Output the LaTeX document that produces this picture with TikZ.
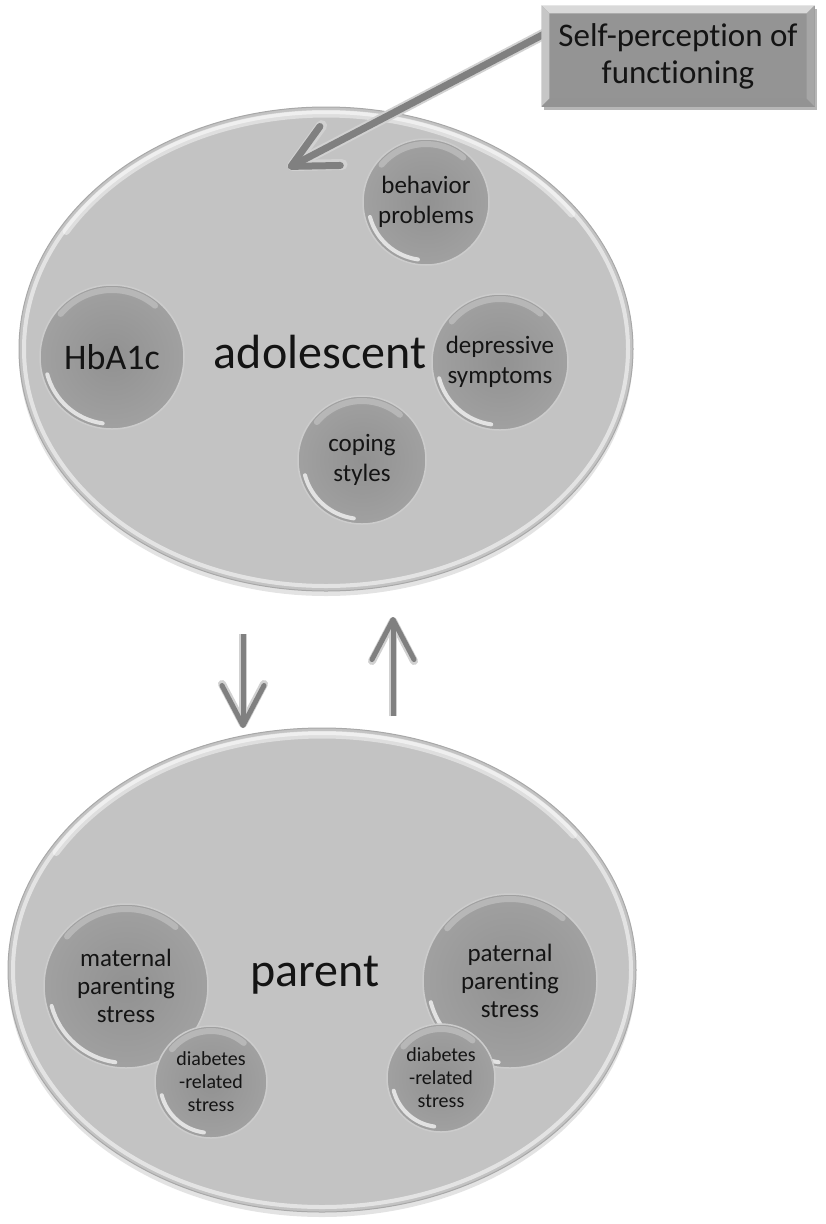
\documentclass[tikz,border=0pt]{standalone}
\usepackage{fontspec}
\setmainfont{Carlito}[Ligatures=NoCommon]
\usetikzlibrary{shapes.geometric,arrows.meta,shadows}

\definecolor{plate}{gray}{0.765}
\definecolor{platerim}{gray}{0.66}
\definecolor{bubin}{gray}{0.57}
\definecolor{bubout}{gray}{0.63}
\definecolor{bubedge}{gray}{0.80}
\definecolor{ink}{gray}{0.08}
\definecolor{boxfill}{gray}{0.58}
\definecolor{shaftdark}{gray}{0.50}
\definecolor{shaftlight}{gray}{0.82}

\tikzset{
  plate/.style={ellipse, inner sep=0pt, fill=plate, draw=platerim, line width=1pt,
    drop shadow={opacity=0.22, shadow xshift=0pt, shadow yshift=-5pt}},
  platelight/.style={white, line width=4pt, opacity=0.55},
  platetop/.style={white, line width=7pt, line cap=round, opacity=0.45},
  bub/.style={circle, inner sep=0pt, align=center, text=ink,
    inner color=bubin, outer color=bubout, draw=bubedge, line width=1.5pt},
  rimlight/.style={white, line width=4pt, line cap=round, opacity=0.7},
  toplight/.style={white, line width=6pt, line cap=round, opacity=0.25},
  bigword/.style={text=ink, font=\fontsize{48pt}{52pt}\selectfont, inner sep=0pt},
  selfbox/.style={rectangle, fill=boxfill, text=ink, align=center, inner sep=0pt,
    font=\fontsize{33pt}{37pt}\selectfont,
    drop shadow={opacity=0.35, shadow xshift=2pt, shadow yshift=-3pt}},
  pointerhalo/.style={line width=11pt, color=shaftlight,
    -{Straight Barb[round, length=44pt, width=44pt]}},
  pointercore/.style={line width=7pt, color=shaftdark,
    -{Straight Barb[round, length=44pt, width=44pt]}},
  linkhalo/.style={line width=8pt, color=shaftlight,
    -{Straight Barb[round, length=40pt, width=42pt]}},
  linkcore/.style={line width=5pt, color=shaftdark,
    -{Straight Barb[round, length=40pt, width=42pt]}},
}

% a glossy disc with its label: name, x, y, radius, font size, line skip, text
\newcommand\bubble[7]{%
  \node[bub, minimum size={2*#4 pt}, font=\fontsize{#5}{#6}\selectfont] (#1) at (#2,#3) {#7};
  \pgfmathsetmacro\rimr{#4-5}%
  \draw[rimlight] ([shift={(195:\rimr pt)}]#1.center) arc[start angle=195, end angle=262, radius=\rimr pt];
  \draw[toplight] ([shift={(50:\rimr pt)}]#1.center) arc[start angle=50, end angle=140, radius=\rimr pt];
}

\begin{document}
\begin{tikzpicture}[x=1pt,y=-1pt]
\useasboundingbox (0,0) rectangle (825,1224);

% the two large plates
\node[plate, minimum width=614pt, minimum height=484pt] (adol) at (326,349) {};
\draw[platelight] ([shift={(0:302pt and 237pt)}]adol.center)
  arc[start angle=0, end angle=360, x radius=302pt, y radius=237pt];
\draw[platetop] ([shift={(35:300pt and 235pt)}]adol.center)
  arc[start angle=35, end angle=150, x radius=300pt, y radius=235pt];

\node[plate, minimum width=628pt, minimum height=484pt] (par) at (322,970) {};
\draw[platelight] ([shift={(0:309pt and 237pt)}]par.center)
  arc[start angle=0, end angle=360, x radius=309pt, y radius=237pt];
\draw[platetop] ([shift={(35:307pt and 235pt)}]par.center)
  arc[start angle=35, end angle=150, x radius=307pt, y radius=235pt];

% adolescent measures
\bubble{beh}{426}{202}{63}{25pt}{30pt}{behavior\\problems}
\bubble{hba}{112}{357}{72}{36pt}{40pt}{HbA1c}
\bubble{dep}{500}{362}{68}{25pt}{30pt}{depressive\\symptoms}
\bubble{cop}{362}{460}{64}{25pt}{30pt}{coping\\styles}
\node[bigword] (adolword) at (320,352) {adolescent};

% parent measures
\bubble{mat}{126}{986}{82}{25pt}{28pt}{maternal\\parenting\\stress}
\bubble{pat}{510}{981}{87}{25pt}{28pt}{paternal\\parenting\\stress}
\bubble{dbl}{211}{1082}{56}{20pt}{23pt}{diabetes\\-related\\stress}
\bubble{dbr}{441}{1078}{54}{20pt}{23pt}{diabetes\\-related\\stress}
\node[bigword] (parword) at (315,975) {parent};

% links between the two plates
\coordinate (dn0) at (243,634);
\coordinate (dn1) at (243,728);
\coordinate (up0) at (393,716);
\coordinate (up1) at (393,617);
\draw[linkhalo] (dn0) -- (dn1);
\draw[linkcore] (dn0) -- (dn1);
\draw[linkhalo] (up0) -- (up1);
\draw[linkcore] (up0) -- (up1);

% self-perception box and its pointer
\node[selfbox, minimum width=273pt, minimum height=101pt] (self) at (678,56) {};
\coordinate (src) at ([shift={(8pt,-26pt)}]self.north west);
\coordinate (aim) at (288,168);
\draw[pointerhalo] (src) -- (aim);
\draw[pointercore] (src) -- (aim);
\node[selfbox, minimum width=273pt, minimum height=101pt] (selfface) at (self.center) {};
\fill[gray!30] (selfface.north west) -- (selfface.north east)
  -- ([shift={(-8pt,-8pt)}]selfface.north east) -- ([shift={(8pt,-8pt)}]selfface.north west) -- cycle;
\fill[gray!45] (selfface.north west) -- (selfface.south west)
  -- ([shift={(8pt,8pt)}]selfface.south west) -- ([shift={(8pt,-8pt)}]selfface.north west) -- cycle;
\fill[gray!85] (selfface.south west) -- (selfface.south east)
  -- ([shift={(-8pt,8pt)}]selfface.south east) -- ([shift={(8pt,8pt)}]selfface.south west) -- cycle;
\fill[gray!70] (selfface.north east) -- (selfface.south east)
  -- ([shift={(-8pt,8pt)}]selfface.south east) -- ([shift={(-8pt,-8pt)}]selfface.north east) -- cycle;
\node[text=ink, align=center, inner sep=0pt, font=\fontsize{33pt}{37pt}\selectfont]
  (selftext) at (selfface.center) {Self-perception of\\functioning};
\end{tikzpicture}
\end{document}
